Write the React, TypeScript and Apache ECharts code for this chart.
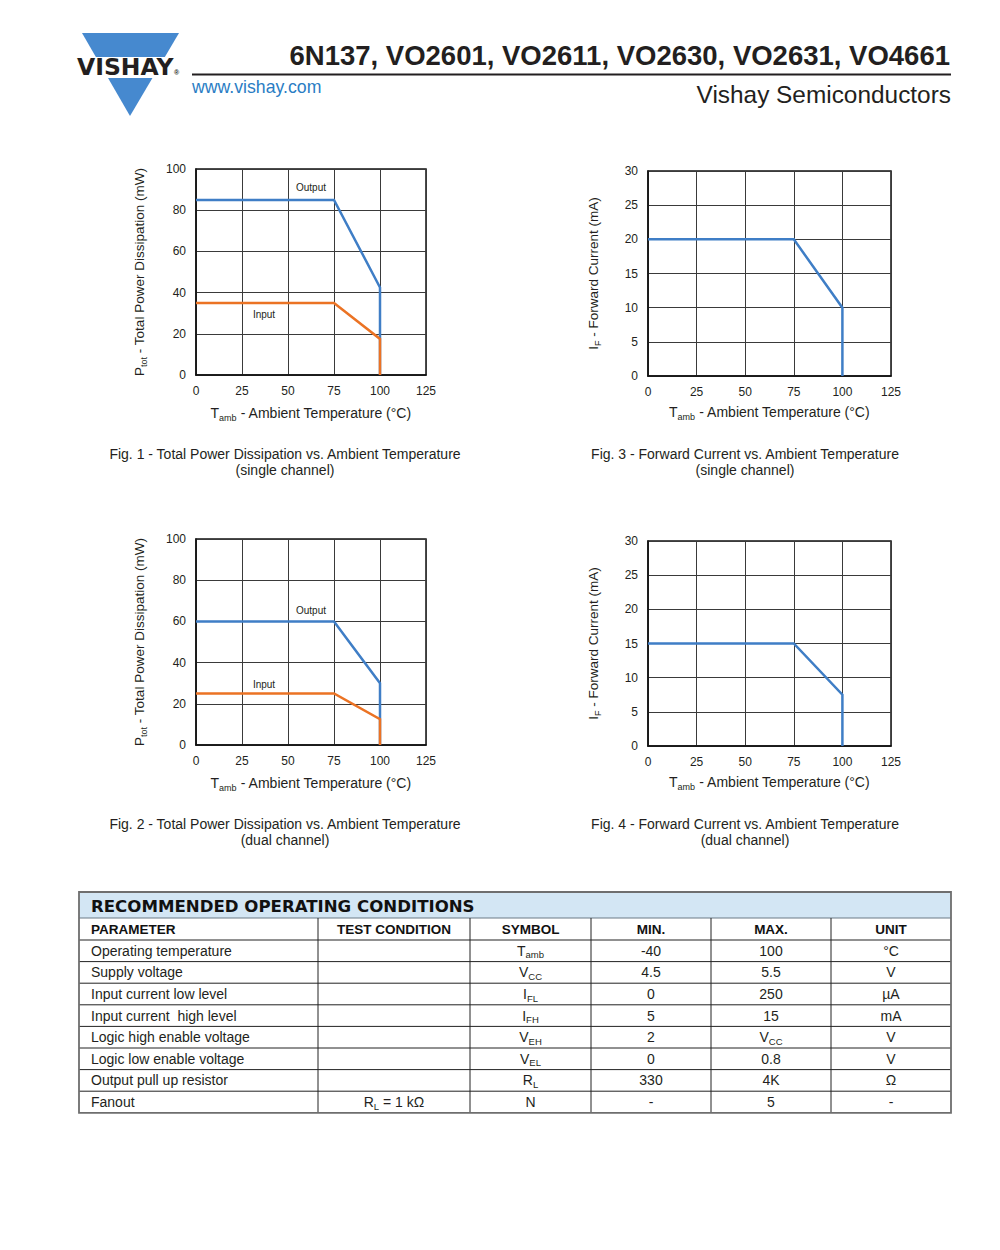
import React, { useEffect, useRef } from "react";
import * as echarts from "echarts";

// ---------- data ----------
const temperatures = [0, 75, 100, 100];
const fig1Output = [85, 85, 42.5, 0];
const fig1Input = [35, 35, 17.5, 0];
const fig2Output = [60, 60, 30, 0];
const fig2Input = [25, 25, 12.5, 0];
const fig3Current = [20, 20, 10, 0];
const fig4Current = [15, 15, 7.5, 0];

const captions = [
  ["Fig. 1 - Total Power Dissipation vs. Ambient Temperature", "(single channel)"],
  ["Fig. 3 - Forward Current vs. Ambient Temperature", "(single channel)"],
  ["Fig. 2 - Total Power Dissipation vs. Ambient Temperature", "(dual channel)"],
  ["Fig. 4 - Forward Current vs. Ambient Temperature", "(dual channel)"],
];

const tableTitle = "RECOMMENDED OPERATING CONDITIONS";
const tableHeaders = ["PARAMETER", "TEST CONDITION", "SYMBOL", "MIN.", "MAX.", "UNIT"];
const parameters = [
  "Operating temperature",
  "Supply voltage",
  "Input current low level",
  "Input current  high level",
  "Logic high enable voltage",
  "Logic low enable voltage",
  "Output pull up resistor",
  "Fanout",
];
const testConditions = ["", "", "", "", "", "", "", "R_{L} = 1 kΩ"];
const symbols = ["T_{amb}", "V_{CC}", "I_{FL}", "I_{FH}", "V_{EH}", "V_{EL}", "R_{L}", "N"];
const minValues = ["-40", "4.5", "0", "5", "2", "0", "330", "-"];
const maxValues = ["100", "5.5", "250", "15", "V_{CC}", "0.8", "4K", "5"];
const units = ["°C", "V", "µA", "mA", "V", "V", "Ω", "-"];

// ---------- styles ----------
const FONT = "'Liberation Sans', Arial, Helvetica, sans-serif";
const TEXT = "#231f20";
const BLUE = "#3f7ec6";
const ORANGE = "#eb7324";

function toRich(str: string) {
  const parts = str.split(/_\{([^}]*)\}/);
  let out = "";
  parts.forEach((p, i) => {
    if (!p) return;
    out += i % 2 === 0 ? `{m|${p}}` : `{s|${p}}`;
  });
  return out;
}

function richStyle(size: number, subSize: number, weight = "normal") {
  return {
    m: { fontSize: size, lineHeight: size + 4, fontFamily: FONT, color: TEXT, fill: TEXT, fontWeight: weight, verticalAlign: "middle" },
    s: { fontSize: subSize, fontFamily: FONT, color: TEXT, fill: TEXT, fontWeight: weight, verticalAlign: "bottom" },
  };
}

function xAxis(gridIndex: number, nameGap: number) {
  return {
    type: "value",
    gridIndex,
    min: 0,
    max: 125,
    interval: 25,
    name: toRich("T_{amb} - Ambient Temperature (°C)"),
    nameLocation: "middle",
    nameGap,
    nameTextStyle: { rich: richStyle(14, 9) },
    axisLine: { show: true, onZero: false, lineStyle: { color: "#111", width: 1.5 } },
    axisTick: { show: false },
    axisLabel: { fontSize: 12, color: TEXT, fontFamily: FONT, margin: 10 },
    splitLine: { show: true, lineStyle: { color: "#3a3a3a", width: 1 } },
  };
}

function yAxis(gridIndex: number, max: number, interval: number, name: string, nameGap: number) {
  return {
    type: "value",
    gridIndex,
    min: 0,
    max,
    interval,
    name: toRich(name),
    nameLocation: "middle",
    nameGap,
    nameTextStyle: { rich: richStyle(13.5, 9) },
    axisLine: { show: true, onZero: false, lineStyle: { color: "#111", width: 1.5 } },
    axisTick: { show: false },
    axisLabel: { fontSize: 12, color: TEXT, fontFamily: FONT, margin: 10 },
    splitLine: { show: true, lineStyle: { color: "#3a3a3a", width: 1 } },
  };
}

function lineSeries(idx: number, values: number[], color: string) {
  return {
    type: "line",
    xAxisIndex: idx,
    yAxisIndex: idx,
    data: temperatures.map((t, i) => [t, values[i]]),
    symbol: "none",
    lineStyle: { color, width: 2.5, join: "miter" },
    silent: true,
  };
}

function txt(x: number, y: number, text: string, size: number, opts: any = {}) {
  return {
    type: "text",
    x,
    y,
    silent: true,
    style: {
      text,
      fontSize: size,
      fontFamily: opts.family || FONT,
      fontWeight: opts.weight || "normal",
      fill: opts.fill || TEXT,
      align: opts.align || "left",
      verticalAlign: "middle",
      rich: opts.rich,
    },
  };
}

function buildGraphics() {
  const g: any[] = [];
  // logo
  g.push({ type: "polygon", shape: { points: [[82, 33], [179, 33], [130, 116]] }, style: { fill: "#4689cf" } });
  g.push({ type: "rect", shape: { x: 74, y: 57, width: 112, height: 21 }, style: { fill: "#ffffff" } });
  g.push(txt(77, 67, "VISHAY", 23.5, { family: "'DejaVu Sans', sans-serif", weight: "bold", fill: "#231f20" }));
  g.push(txt(174, 72, "®", 7, { weight: "bold" }));
  // header
  g.push(txt(950, 55, "6N137, VO2601, VO2611, VO2630, VO2631, VO4661", 27.5, { weight: "bold", align: "right" }));
  g.push({ type: "line", shape: { x1: 192, y1: 74.5, x2: 951, y2: 74.5 }, style: { stroke: "#231f20", lineWidth: 2 } });
  g.push(txt(192, 87, "www.vishay.com", 17.7, { fill: "#2a7dc4" }));
  g.push(txt(951, 94, "Vishay Semiconductors", 24.4, { align: "right" }));

  // captions
  const capPos = [[285, 454], [745, 454], [285, 824], [745, 824]];
  captions.forEach((c, i) => {
    g.push(txt(capPos[i][0], capPos[i][1], c[0], 14, { align: "center" }));
    g.push(txt(capPos[i][0], capPos[i][1] + 16, c[1], 14, { align: "center" }));
  });

  // curve labels
  g.push(txt(311, 187, "Output", 10, { align: "center" }));
  g.push(txt(264, 314, "Input", 10, { align: "center" }));
  g.push(txt(311, 610, "Output", 10, { align: "center" }));
  g.push(txt(264, 684, "Input", 10, { align: "center" }));

  // table
  const colX = [79, 318, 470, 591, 711, 831, 951];
  const top = 892;
  const titleBottom = 918;
  const headBottom = 940;
  const rowH = 21.6;
  const bottom = headBottom + rowH * parameters.length;
  g.push({ type: "rect", shape: { x: colX[0], y: top, width: colX[6] - colX[0], height: titleBottom - top }, style: { fill: "#d3e6f4" } });
  g.push(txt(91, 906, tableTitle, 16.6, { family: "'DejaVu Sans', sans-serif", weight: "bold", fill: "#111" }));
  const hLines = [titleBottom, headBottom];
  for (let i = 1; i < parameters.length; i++) hLines.push(headBottom + rowH * i);
  hLines.forEach((y, i) => {
    g.push({ type: "line", shape: { x1: colX[0], y1: y, x2: colX[6], y2: y }, style: { stroke: i === 0 ? "#6b7b86" : "#222", lineWidth: 1 } });
  });
  for (let i = 1; i < 6; i++) {
    g.push({ type: "line", shape: { x1: colX[i], y1: titleBottom, x2: colX[i], y2: bottom }, style: { stroke: "#222", lineWidth: 1 } });
  }
  g.push({ type: "rect", shape: { x: colX[0], y: top, width: colX[6] - colX[0], height: bottom - top }, style: { fill: "none", stroke: "#6e6e6e", lineWidth: 1.8 } });
  tableHeaders.forEach((h, i) => {
    if (i === 0) g.push(txt(91, 929, h, 13.5, { weight: "bold", fill: "#111" }));
    else g.push(txt((colX[i] + colX[i + 1]) / 2, 929, h, 13.5, { weight: "bold", fill: "#111", align: "center" }));
  });
  const rich = richStyle(14, 9.5);
  parameters.forEach((p, r) => {
    const cy = headBottom + rowH * r + rowH / 2;
    g.push(txt(91, cy, p, 14));
    const cells = [testConditions[r], symbols[r], minValues[r], maxValues[r], units[r]];
    cells.forEach((c, j) => {
      if (!c) return;
      const cx = (colX[j + 1] + colX[j + 2]) / 2;
      g.push(txt(cx, cy, toRich(c), 14, { align: "center", rich }));
    });
  });
  return g;
}

export default function App() {
  const ref = useRef<HTMLDivElement>(null);
  useEffect(() => {
    if (!ref.current) return;
    const chart = echarts.init(ref.current, undefined, { renderer: "svg" });
    const gridBase = { show: true, borderColor: "#111", borderWidth: 1.5, backgroundColor: "transparent", containLabel: false };
    chart.setOption({
      animation: false,
      backgroundColor: "#ffffff",
      textStyle: { fontFamily: FONT },
      grid: [
        { ...gridBase, left: 196, top: 169, width: 230, height: 206 },
        { ...gridBase, left: 648, top: 171, width: 243, height: 205 },
        { ...gridBase, left: 196, top: 539, width: 230, height: 206 },
        { ...gridBase, left: 648, top: 541, width: 243, height: 205 },
      ],
      xAxis: [xAxis(0, 29), xAxis(1, 27), xAxis(2, 29), xAxis(3, 27)],
      yAxis: [
        yAxis(0, 100, 20, "P_{tot} - Total Power Dissipation (mW)", 48),
        yAxis(1, 30, 5, "I_{F} - Forward Current (mA)", 46),
        yAxis(2, 100, 20, "P_{tot} - Total Power Dissipation (mW)", 48),
        yAxis(3, 30, 5, "I_{F} - Forward Current (mA)", 46),
      ],
      series: [
        lineSeries(0, fig1Output, BLUE),
        lineSeries(0, fig1Input, ORANGE),
        lineSeries(1, fig3Current, BLUE),
        lineSeries(2, fig2Output, BLUE),
        lineSeries(2, fig2Input, ORANGE),
        lineSeries(3, fig4Current, BLUE),
      ],
      graphic: buildGraphics(),
    });
    return () => chart.dispose();
  }, []);
  return (
    <div
      ref={ref}
      style={{ position: "absolute", left: 0, top: 0, width: 1000, height: 1250, background: "#fff" }}
    />
  );
}
